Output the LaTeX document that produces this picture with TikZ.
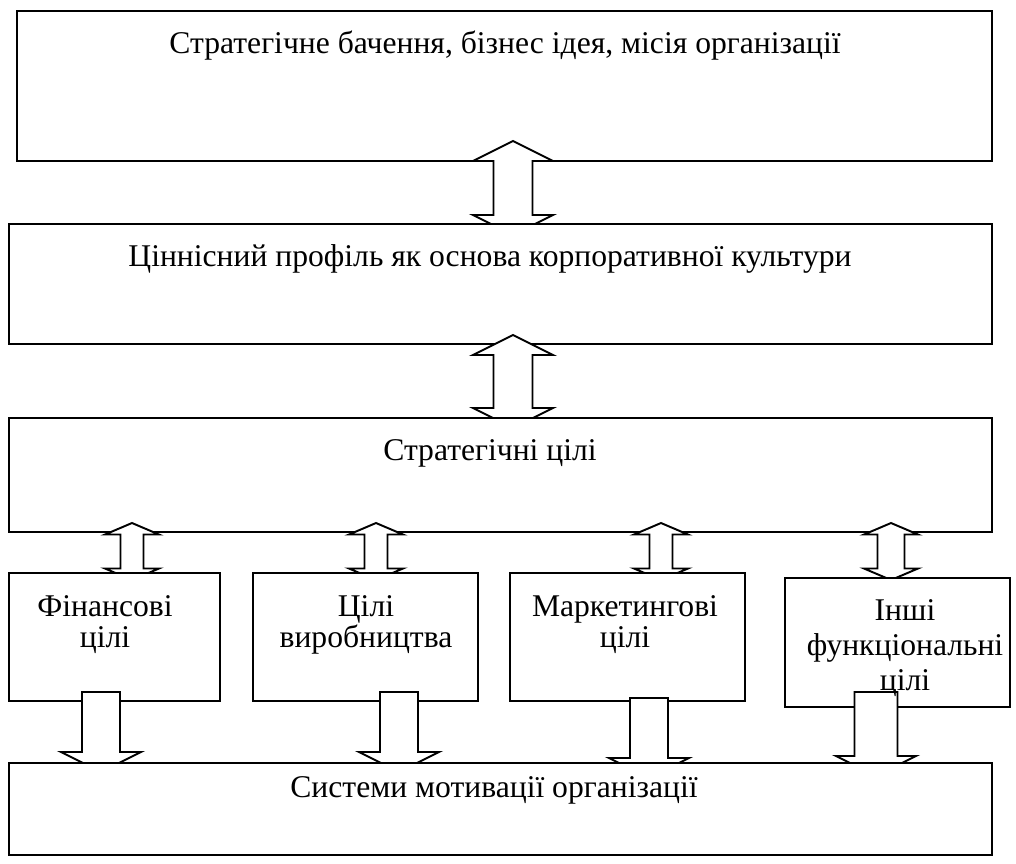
\documentclass[tikz,border=0pt]{standalone}
\usepackage{fontspec}
\setmainfont{Liberation Serif}
\usetikzlibrary{calc,fit,positioning}

\tikzset{
  frame/.style={inner sep=0pt, outer sep=0pt},
  boxline/.style={draw=black, fill=white, line width=1.1pt},
  blk/.style={draw=black, fill=white, line width=1.1pt, line join=miter},
  txt/.style={font=\fontsize{18}{18}\selectfont, inner sep=0pt, align=center},
}

% block arrow with two heads: top tip, bottom tip, head half width, shaft half width, head length
\newcommand{\twoway}[5]{%
  \draw[blk] (#1) -- ($(#1)+(#3,#5)$) -- ($(#1)+(#4,#5)$) -- ($(#2)+(#4,-#5)$)
    -- ($(#2)+(#3,-#5)$) -- (#2) -- ($(#2)+(-#3,-#5)$) -- ($(#2)+(-#4,-#5)$)
    -- ($(#1)+(-#4,#5)$) -- ($(#1)+(-#3,#5)$) -- cycle;}
% block arrow pointing down: shaft top, tip, head half width, shaft half width, head length
\newcommand{\oneway}[5]{%
  \draw[blk] ($(#1)+(-#4,0)$) -- ($(#1)+(#4,0)$) -- ($(#2)+(#4,-#5)$) -- ($(#2)+(#3,-#5)$)
    -- (#2) -- ($(#2)+(-#3,-#5)$) -- ($(#2)+(-#4,-#5)$) -- cycle;}

\begin{document}
\begin{tikzpicture}[x=0.02cm,y=-0.02cm]
  \useasboundingbox (0,0) rectangle (1016,863);

  % frames
  \node[frame, fit={(17,11) (992,161)}] (vision) {};
  \node[frame, fit={(9,224) (992,344)}] (values) {};
  \node[frame, fit={(9,418) (992,532)}] (goals) {};
  \node[frame, fit={(9,573) (220,701)}] (fin) {};
  \node[frame, fit={(253,573) (478,701)}] (prod) {};
  \node[frame, fit={(510,573) (745,701)}] (mark) {};
  \node[frame, fit={(785,578) (1010,707)}] (other) {};
  \node[frame, fit={(9,763) (992,855)}] (motiv) {};

  % arrow axes
  \coordinate (c0) at (513,0);
  \coordinate (u1) at (132,0); \coordinate (u2) at (376,0);
  \coordinate (u3) at (661,0); \coordinate (u4) at (891,0);
  \coordinate (d1) at (101,0); \coordinate (d2) at (399,0);
  \coordinate (d3) at (649,0); \coordinate (d4) at (876,0);

  \draw[boxline] (vision.north west) rectangle (vision.south east);
  \coordinate (a1t) at ($(vision.south -| c0)+(0,-20)$);
  \coordinate (a1b) at ($(values.north -| c0)+(0,11)$);
  \twoway{a1t}{a1b}{40}{19.5}{20}

  \draw[boxline] (values.north west) rectangle (values.south east);
  \coordinate (a2t) at ($(values.south -| c0)+(0,-9)$);
  \coordinate (a2b) at ($(goals.north -| c0)+(0,10)$);
  \twoway{a2t}{a2b}{40}{19.5}{20}

  \draw[boxline] (goals.north west) rectangle (goals.south east);
  \coordinate (b1t) at ($(goals.south -| u1)+(0,-9)$);
  \coordinate (b1b) at ($(fin.north -| u1)+(0,7)$);
  \twoway{b1t}{b1b}{27}{11.5}{11.5}
  \coordinate (b2t) at ($(goals.south -| u2)+(0,-9)$);
  \coordinate (b2b) at ($(prod.north -| u2)+(0,7)$);
  \twoway{b2t}{b2b}{27}{11.5}{11.5}
  \coordinate (b3t) at ($(goals.south -| u3)+(0,-9)$);
  \coordinate (b3b) at ($(mark.north -| u3)+(0,7)$);
  \twoway{b3t}{b3b}{27}{11.5}{11.5}
  \coordinate (b4t) at ($(goals.south -| u4)+(0,-9)$);
  \coordinate (b4b) at ($(other.north -| u4)+(0,2)$);
  \twoway{b4t}{b4b}{27}{13.5}{11.5}

  \draw[boxline] (fin.north west) rectangle (fin.south east);
  \draw[boxline] (prod.north west) rectangle (prod.south east);
  \draw[boxline] (mark.north west) rectangle (mark.south east);
  \draw[boxline] (other.north west) rectangle (other.south east);

  \coordinate (e1t) at ($(fin.south -| d1)+(0,-9)$);
  \coordinate (e1b) at ($(motiv.north -| d1)+(0,9)$);
  \oneway{e1t}{e1b}{40}{19}{20}
  \coordinate (e2t) at ($(prod.south -| d2)+(0,-9)$);
  \coordinate (e2b) at ($(motiv.north -| d2)+(0,9)$);
  \oneway{e2t}{e2b}{40}{19}{20}
  \coordinate (e3t) at ($(mark.south -| d3)+(0,-3)$);
  \coordinate (e3b) at ($(motiv.north -| d3)+(0,15)$);
  \oneway{e3t}{e3b}{40}{19}{20}
  \coordinate (e4t) at ($(other.south -| d4)+(0,-15)$);
  \coordinate (e4b) at ($(motiv.north -| d4)+(0,13)$);
  \oneway{e4t}{e4b}{40}{21.5}{20}

  \draw[boxline] (motiv.north west) rectangle (motiv.south east);

  % texts
  \node[txt] (visiontext) at (505,46) {Стратегічне бачення, бізнес ідея, місія організації};
  \node[txt] (valuestext) at (490,259) {Ціннісний профіль як основа корпоративної культури};
  \node[txt] (goalstext) at (490,453) {Стратегічні цілі};
  \node[txt, font=\fontsize{18}{17.6}\selectfont] (fintext) at (105,625) {Фінансові\\цілі};
  \node[txt, font=\fontsize{18}{17.6}\selectfont] (prodtext) at (366,625) {Цілі\\виробництва};
  \node[txt, font=\fontsize{18}{17.6}\selectfont] (marktext) at (625,625) {Маркетингові\\цілі};
  \node[txt, font=\fontsize{18}{20}\selectfont] (othertext) at (905,648) {Інші\\функціональні\\цілі};
  \node[txt] (motivtext) at (494,790) {Системи мотивації організації};
\end{tikzpicture}
\end{document}
